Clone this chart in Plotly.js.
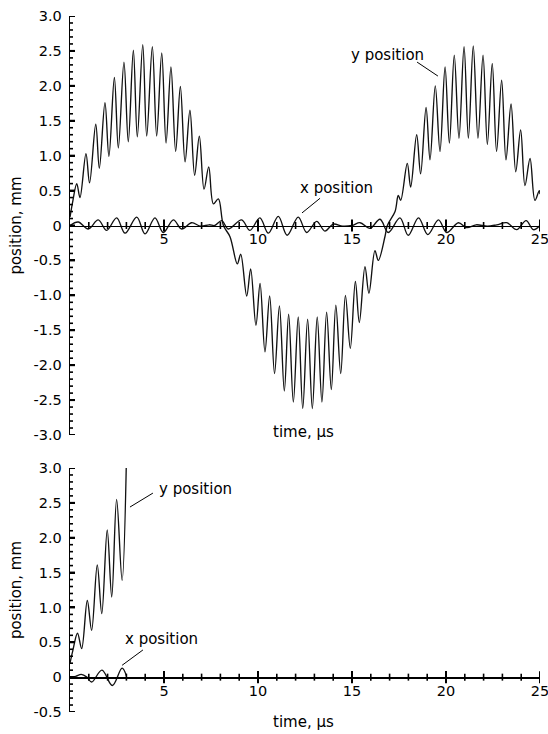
<!DOCTYPE html>
<html>
<head>
<meta charset="utf-8">
<script src="https://cdn.plot.ly/plotly-3.0.1.min.js"></script>
<style>html,body{margin:0;padding:0;background:#fff;}#chart{width:548px;height:734px;}</style>
</head>
<body>
<div id="chart"></div>
<script>
// ---- Data (extrema of the oscillations) ----
// Top panel: y position (mm) vs time (µs)
const topYTime = [0.00,0.15,0.36,0.53,0.85,1.04,1.37,1.56,1.86,2.07,2.36,2.57,2.87,3.10,3.37,3.58,3.87,4.08,4.38,4.61,4.88,5.11,5.37,5.62,5.87,6.12,6.38,6.63,6.88,7.13,7.38,7.63,7.89,8.16,8.51,8.90,9.08,9.40,9.61,9.89,10.11,10.37,10.62,10.88,11.14,11.40,11.63,11.88,12.14,12.38,12.64,12.89,13.15,13.40,13.65,13.90,14.14,14.40,14.65,14.91,15.18,15.39,15.69,15.90,16.22,16.40,16.76,16.88,17.29,17.46,17.59,17.94,18.12,18.44,18.65,18.94,19.15,19.43,19.68,19.95,20.18,20.44,20.69,20.96,21.19,21.45,21.70,21.97,22.20,22.46,22.69,22.96,23.19,23.46,23.71,23.97,24.20,24.47,24.73,24.96,25.00];
const topYPos  = [0.12,0.35,0.60,0.40,1.03,0.61,1.45,0.82,1.76,0.99,2.12,1.11,2.34,1.20,2.51,1.27,2.59,1.28,2.56,1.28,2.47,1.18,2.27,1.06,1.99,0.91,1.65,0.72,1.28,0.52,0.84,0.31,0.38,0.00,-0.16,-0.55,-0.41,-1.01,-0.62,-1.43,-0.83,-1.81,-1.01,-2.12,-1.15,-2.37,-1.27,-2.53,-1.31,-2.62,-1.34,-2.62,-1.31,-2.53,-1.24,-2.35,-1.14,-2.12,-1.00,-1.76,-0.80,-1.39,-0.59,-0.97,-0.36,-0.50,-0.15,0.00,0.20,0.43,0.36,0.89,0.55,1.30,0.74,1.69,0.94,2.00,1.06,2.27,1.18,2.44,1.25,2.56,1.25,2.57,1.25,2.44,1.16,2.32,1.06,2.08,0.94,1.74,0.77,1.37,0.57,0.96,0.36,0.50,0.45];
// Top panel: x position (mm)
const topXTime = [0.00,0.44,0.97,1.50,1.95,2.48,2.93,3.55,3.99,4.52,4.96,5.50,5.94,6.47,6.95,7.40,7.70,8.07,8.42,9.13,9.57,10.10,10.55,11.08,11.55,12.14,12.59,13.12,13.56,14.00,14.50,15.00,15.43,15.96,16.49,16.93,17.55,17.99,18.54,19.03,19.60,20.04,20.66,21.10,21.60,22.20,22.70,23.23,23.76,24.26,24.65,25.00];
const topXPos  = [0.00,0.05,-0.05,0.08,-0.07,0.11,-0.11,0.12,-0.12,0.11,-0.10,0.08,-0.05,0.04,-0.01,0.01,0.00,0.07,-0.05,0.08,-0.07,0.11,-0.11,0.13,-0.14,0.12,-0.10,0.06,-0.08,0.02,-0.01,0.00,0.04,-0.04,0.09,-0.10,0.11,-0.14,0.11,-0.13,0.08,-0.10,0.04,-0.03,0.01,-0.01,0.01,0.04,-0.06,0.07,-0.06,0.00];
// Bottom panel: y position (mm)
const botYTime = [0.00,0.15,0.40,0.62,0.92,1.15,1.45,1.69,1.98,2.22,2.48,2.77,3.02];
const botYPos  = [0.20,0.38,0.63,0.41,1.10,0.67,1.61,0.91,2.11,1.15,2.55,1.39,3.40];
// Bottom panel: x position (mm)
const botXTime = [0.00,0.30,0.60,0.90,1.15,1.70,2.25,2.77,3.00];
const botXPos  = [0.00,0.01,0.04,0.00,-0.07,0.10,-0.12,0.13,0.02];
// Tick labels
const xTickVals = [5,10,15,20,25];
const xTickText = ['5','10','15','20','25'];
const xMinorVals = [1,2,3,4,6,7,8,9,11,12,13,14,16,17,18,19,21,22,23,24];
const topYTickVals = [-3,-2.5,-2,-1.5,-1,-0.5,0,0.5,1,1.5,2,2.5,3];
const topYTickText = ['-3.0','-2.5','-2.0','-1.5','-1.0','-0.5','0','0.5','1.0','1.5','2.0','2.5','3.0'];
const botYTickVals = [-0.5,0,0.5,1,1.5,2,2.5,3];
const botYTickText = ['-0.5','0','0.5','1.0','1.5','2.0','2.5','3.0'];

// ---- Layout geometry ----
const W = 548, H = 734;
const pp = py => (H - py) / H;
const xDom = [70 / W, 540 / W];
const topDom = [pp(435), pp(16)];
const botDom = [pp(712), pp(468)];
const topRange = [-3, 3], botRange = [-0.5, 3];
const zeroPos = (dom, r) => dom[0] + (0 - r[0]) / (r[1] - r[0]) * (dom[1] - dom[0]);
const zTop = zeroPos(topDom, topRange), zBot = zeroPos(botDom, botRange);

const FONT = 'DejaVu Sans';
const tickFont = {family: FONT, size: 14.5, color: '#000'};
const txtFont = {family: FONT, size: 15, color: '#000'};
const lineStyle = {color: '#111', width: 1.35, shape: 'spline', smoothing: 1};

const traces = [
  {x: topYTime, y: topYPos, xaxis: 'x', yaxis: 'y', mode: 'lines', line: lineStyle, name: 'y position'},
  {x: topXTime, y: topXPos, xaxis: 'x', yaxis: 'y', mode: 'lines', line: lineStyle, name: 'x position'},
  {x: botYTime, y: botYPos, xaxis: 'x2', yaxis: 'y2', mode: 'lines', line: lineStyle, name: 'y position'},
  {x: botXTime, y: botXPos, xaxis: 'x2', yaxis: 'y2', mode: 'lines', line: lineStyle, name: 'x position'}
];

function xAx(pos) {
  return {domain: xDom, range: [0, 25], anchor: 'free', position: pos,
    showline: true, linecolor: '#000', linewidth: 1.5, showgrid: false, zeroline: false,
    ticks: 'inside', ticklen: 6, tickwidth: 2, tickcolor: '#000',
    tickmode: 'array', tickvals: xTickVals, ticktext: xTickText, tickfont: tickFont,
    ticklabeloverflow: 'allow'};
}
function yAx(dom, r, vals, text, anchor) {
  return {domain: dom, range: r, anchor: anchor,
    showline: true, linecolor: '#000', linewidth: 1.3, showgrid: false, zeroline: false,
    ticks: 'inside', ticklen: 5, tickwidth: 2, tickcolor: '#000',
    tickmode: 'array', tickvals: vals, ticktext: text, tickfont: tickFont, ticklabelstandoff: 4,
    title: {text: 'position, mm', font: txtFont, standoff: 8}};
}

// Crossing x ticks at y = 0 and minor y ticks, as pixel-sized shapes on the axes
const shapes = [];
function xTick(xr, yr, v, half, w) {
  shapes.push({type: 'line', xref: xr, yref: yr, ysizemode: 'pixel', yanchor: 0,
    x0: v, x1: v, y0: -half, y1: half, line: {color: '#000', width: w}});
}
function yTick(xr, yr, v, len, w) {
  shapes.push({type: 'line', xref: xr, yref: yr, xsizemode: 'pixel', xanchor: 0,
    x0: 0, x1: len, y0: v, y1: v, line: {color: '#000', width: w}});
}
[['x', 'y', topRange, topYTickVals], ['x2', 'y2', botRange, botYTickVals]].forEach(([xr, yr, r, yv]) => {
  xTickVals.forEach(v => xTick(xr, yr, v, 6, 2));
  xMinorVals.forEach(v => xTick(xr, yr, v, 3.5, 1.6));
  yv.forEach(v => yTick(xr, yr, v, 5, 2));
  for (let k = Math.round(r[0] * 10); k <= Math.round(r[1] * 10); k++) {
    if (k % 5 !== 0) yTick(xr, yr, k / 10, 3, 1.6);
  }
});
// leader lines for the in-plot labels
shapes.push(
  {type: 'line', xref: 'x', yref: 'y', x0: 18.46, y0: 2.34, x1: 19.57, y1: 2.14, line: {color: '#000', width: 1}},
  {type: 'line', xref: 'x', yref: 'y', x0: 13.30, y0: 0.39, x1: 12.34, y1: 0.18, line: {color: '#000', width: 1}},
  {type: 'line', xref: 'x2', yref: 'y2', x0: 4.41, y0: 2.64, x1: 3.19, y1: 2.44, line: {color: '#000', width: 1}},
  {type: 'line', xref: 'x2', yref: 'y2', x0: 3.88, y0: 0.39, x1: 2.77, y1: 0.17, line: {color: '#000', width: 1}}
);

const ann = (text, xr, yr, x, y) => ({text, xref: xr, yref: yr, x, y, showarrow: false, font: txtFont, xanchor: 'center', yanchor: 'middle'});

const layout = {
  width: W, height: H,
  margin: {l: 0, r: 0, t: 0, b: 0, autoexpand: false},
  paper_bgcolor: '#fff', plot_bgcolor: '#fff',
  showlegend: false,
  xaxis: xAx(zTop),
  yaxis: yAx(topDom, topRange, topYTickVals, topYTickText, 'x'),
  xaxis2: xAx(zBot),
  yaxis2: yAx(botDom, botRange, botYTickVals, botYTickText, 'x2'),
  annotations: [
    ann('y position', 'x', 'y', 16.91, 2.44),
    ann('x position', 'x', 'y', 14.15, 0.53),
    ann('time, μs', 'paper', 'paper', 303 / W, pp(432)),
    ann('y position', 'x2', 'y2', 6.70, 2.70),
    ann('x position', 'x2', 'y2', 4.87, 0.55),
    ann('time, μs', 'paper', 'paper', 303 / W, pp(722))
  ],
  shapes: shapes
};

Plotly.newPlot('chart', traces, layout, {staticPlot: true, displayModeBar: false});
</script>
</body>
</html>
